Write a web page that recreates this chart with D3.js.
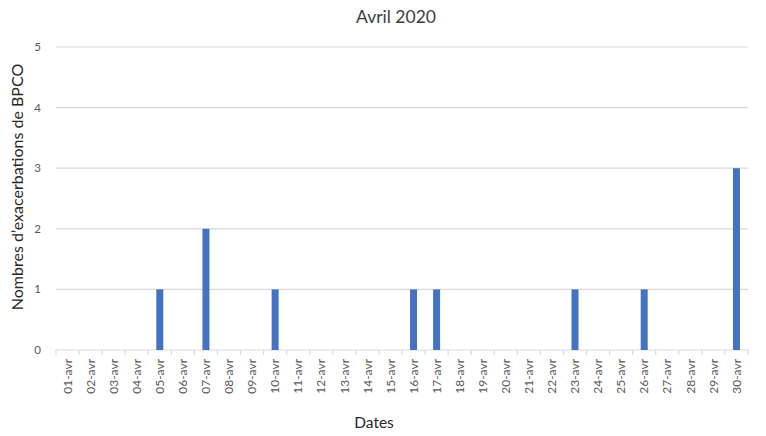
<!DOCTYPE html>
<html>
<head>
<meta charset="utf-8">
<script src="https://cdn.jsdelivr.net/npm/d3@7"></script>
<style>
  body { margin: 0; background: #fff; }
  text { font-family: Lato, "Open Sans", sans-serif; }
</style>
</head>
<body>
<div id="chart"></div>
<script>
// data
var days = d3.range(1, 31).map(function(d) { return (d < 10 ? '0' + d : '' + d) + '-avr'; });
var eventDays = ['05-avr', '07-avr', '10-avr', '16-avr', '17-avr', '23-avr', '26-avr', '30-avr'];
var eventCounts = [1, 2, 1, 1, 1, 1, 1, 3];
var yTicks = [0, 1, 2, 3, 4, 5];

var counts = days.map(function(d) {
  var i = eventDays.indexOf(d);
  return { day: d, value: i >= 0 ? eventCounts[i] : 0 };
});

var width = 766, height = 436;
var margin = { top: 47, right: 18, bottom: 86, left: 56 };

var svg = d3.select('#chart').append('svg')
  .attr('width', width)
  .attr('height', height);

var x = d3.scaleBand()
  .domain(days)
  .range([margin.left, width - margin.right]);

var y = d3.scaleLinear()
  .domain([0, 5])
  .range([height - margin.bottom, margin.top]);

//gridlines
svg.append('g')
  .selectAll('line')
  .data(yTicks)
  .join('line')
  .attr('x1', margin.left)
  .attr('x2', width - margin.right)
  .attr('y1', function(d) { return y(d); })
  .attr('y2', function(d) { return y(d); })
  .attr('stroke', '#d9d9d9')
  .attr('stroke-width', 1.2);

//y labels
svg.append('g')
  .selectAll('text')
  .data(yTicks)
  .join('text')
  .attr('x', margin.left - 15)
  .attr('y', function(d) { return y(d); })
  .attr('dy', '0.35em')
  .attr('text-anchor', 'end')
  .attr('font-size', 11.5)
  .attr('fill', '#595959')
  .text(function(d) { return d; });

//bars
svg.append('g')
  .selectAll('rect')
  .data(counts.filter(function(d) { return d.value > 0; }))
  .join('rect')
  .attr('x', function(d) { return x(d.day) + x.bandwidth() / 2 - 3.5; })
  .attr('width', 7)
  .attr('y', function(d) { return y(d.value); })
  .attr('height', function(d) { return y(0) - y(d.value); })
  .attr('fill', '#4472c4');

//x axis ticks at category boundaries
var boundaries = days.map(function(d) { return x(d); }).concat([width - margin.right]);
svg.append('g')
  .selectAll('line')
  .data(boundaries)
  .join('line')
  .attr('x1', function(d) { return d; })
  .attr('x2', function(d) { return d; })
  .attr('y1', y(0))
  .attr('y2', y(0) + 5)
  .attr('stroke', '#d9d9d9')
  .attr('stroke-width', 1.2);

//x labels
svg.append('g')
  .selectAll('text')
  .data(days)
  .join('text')
  .attr('transform', function(d) {
    return 'translate(' + (x(d) + x.bandwidth() / 2) + ',' + (y(0) + 9) + ') rotate(-90)';
  })
  .attr('dy', '0.35em')
  .attr('text-anchor', 'end')
  .attr('font-size', 12)
  .attr('fill', '#595959')
  .text(function(d) { return d; });

//title
svg.append('text')
  .attr('x', 396)
  .attr('y', 23)
  .attr('text-anchor', 'middle')
  .attr('font-size', 17.5)
  .attr('fill', '#404040')
  .text('Avril 2020');

//axis titles
svg.append('text')
  .attr('x', 374)
  .attr('y', 428)
  .attr('text-anchor', 'middle')
  .attr('font-size', 15.5)
  .attr('fill', '#262626')
  .text('Dates');

svg.append('text')
  .attr('transform', 'translate(23,' + 187 + ') rotate(-90)')
  .attr('text-anchor', 'middle')
  .attr('font-size', 16)
  .attr('fill', '#262626')
  .text('Nombres d\u2019exacerbations de BPCO');
</script>
</body>
</html>
